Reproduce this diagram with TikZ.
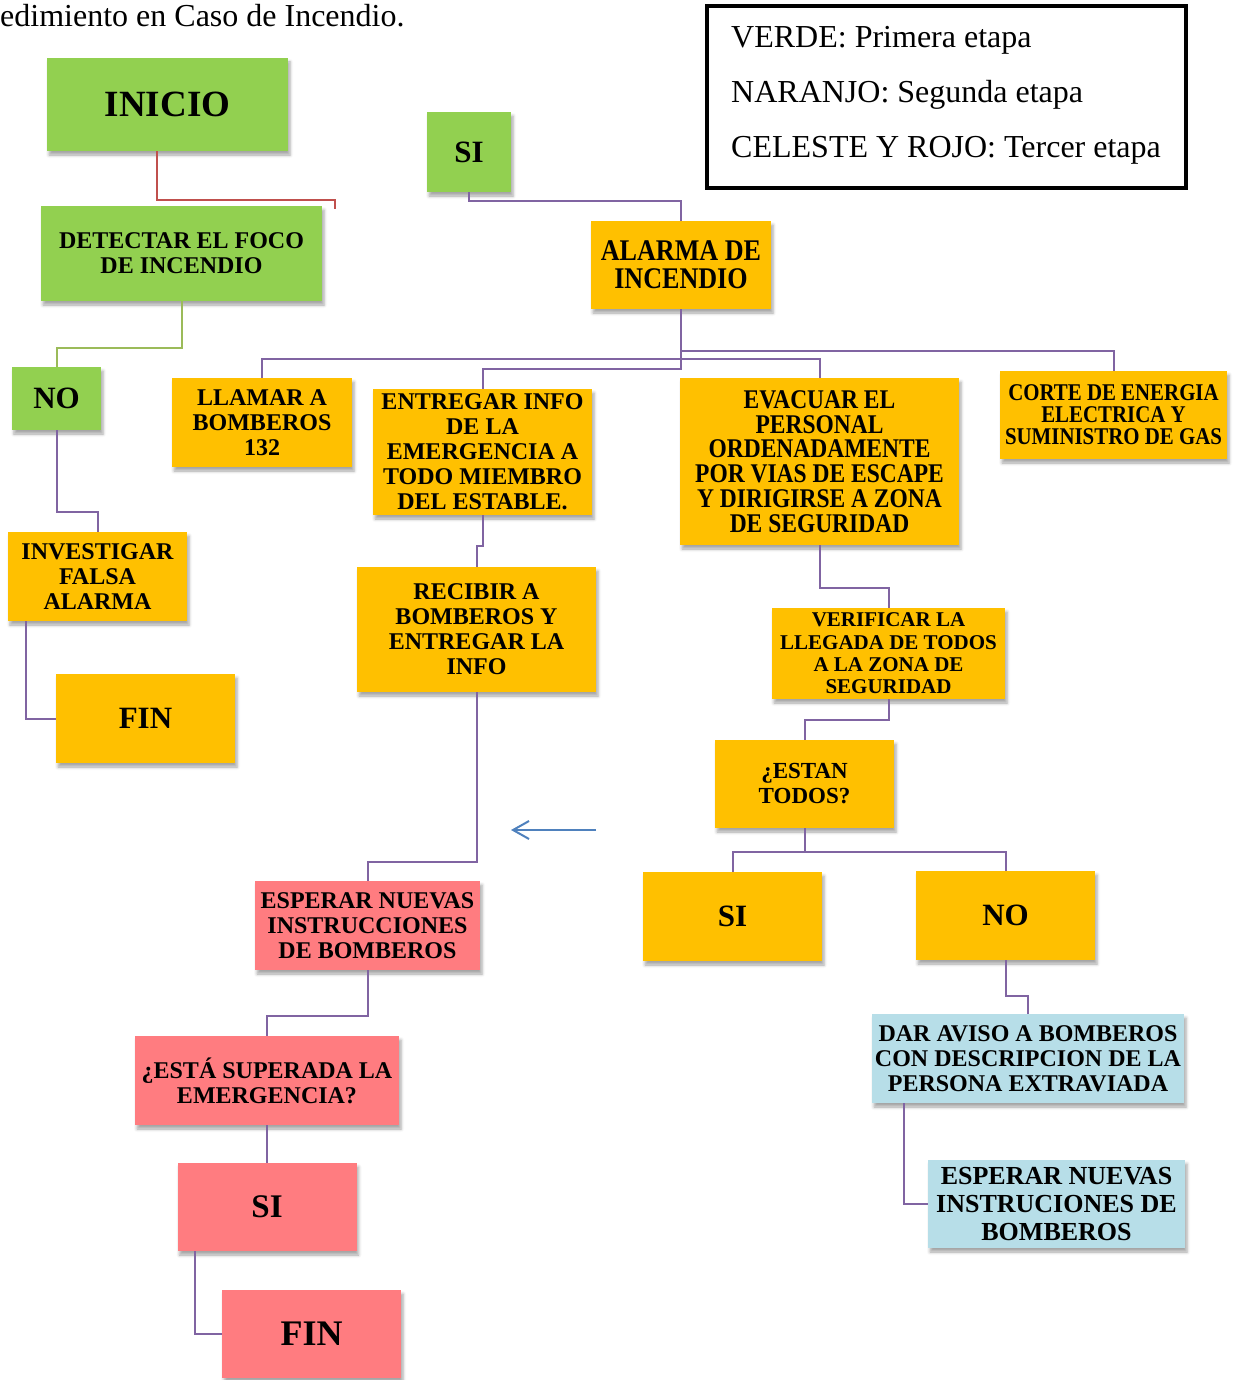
\documentclass[tikz,border=0pt]{standalone}
\usepackage{fontspec}
\setmainfont{Liberation Serif}
\newfontfamily\condfont[FakeStretch=0.87]{Liberation Serif}
\usetikzlibrary{arrows.meta,shadows.blur}
\definecolor{cGreen}{HTML}{92D050}
\definecolor{cOrange}{HTML}{FFC000}
\definecolor{cRed}{HTML}{FF7C80}
\definecolor{cBlue}{HTML}{B7DEE8}
\definecolor{cPurple}{HTML}{8064A2}
\definecolor{cGline}{HTML}{9BBB59}
\definecolor{cRline}{HTML}{C0504D}
\definecolor{cArrow}{HTML}{4F81BD}
\newcommand\mybf[2]{\fontsize{#1}{#2}\selectfont\bfseries}
\newcommand\mycond[2]{\condfont\fontsize{#1}{#2}\selectfont\bfseries}
\begin{document}
\begin{tikzpicture}[x=1pt,y=-1pt,
  box/.style={draw=none, inner sep=0pt, align=center,
    blur shadow={shadow xshift=2pt, shadow yshift=-4pt, shadow blur radius=3pt, shadow opacity=35}},
  gbox/.style={box, fill=cGreen},
  obox/.style={box, fill=cOrange},
  rbox/.style={box, fill=cRed},
  bbox/.style={box, fill=cBlue},
  sz/.style n args={2}{minimum width=#1pt, minimum height=#2pt},
  pline/.style={draw=cPurple, line width=2pt},
  gline/.style={draw=cGline, line width=2pt},
  rline/.style={draw=cRline, line width=2pt},
  legtext/.style={anchor=base west, inner sep=0pt, font=\fontsize{32}{32}\selectfont}
]
\useasboundingbox (0,0) rectangle (1243,1380);

% title fragment
\node[legtext] (title) at (0,27) {edimiento en Caso de Incendio.};

% legend
\node[draw=black, line width=4pt, sz={479}{182}, inner sep=0pt] (legend) at (946.5,97) {};
\node[legtext] (leg1) at (731,48) {VERDE: Primera etapa};
\node[legtext] (leg2) at (731,103) {NARANJO: Segunda etapa};
\node[legtext] (leg3) at (731,158) {CELESTE Y ROJO: Tercer etapa};

% green stage
\node[gbox, sz={241}{93}, font=\mybf{37}{37}] (inicio) at (167.5,104.5) {INICIO};
\node[gbox, sz={281}{95}, font=\mybf{24}{25}] (det) at (181.5,253.5) {DETECTAR EL FOCO\\DE INCENDIO};
\node[gbox, sz={89}{63}, font=\mybf{31}{31}] (noA) at (56.5,398.5) {NO};
\node[gbox, sz={84}{80}, font=\mybf{31}{31}] (siA) at (469,152) {SI};

% orange stage
\node[obox, sz={179}{89}, font=\mybf{24}{25}] (inv) at (97.5,576.5) {INVESTIGAR\\FALSA\\ALARMA};
\node[obox, sz={179}{89}, font=\mybf{31}{31}] (finA) at (145.5,718.5) {FIN};
\node[obox, sz={180}{88}, font=\mycond{30}{28}] (alarma) at (681,265) {ALARMA DE\\INCENDIO};
\node[obox, sz={180}{89}, font=\mybf{24}{25}] (llamar) at (262,422.5) {LLAMAR A\\BOMBEROS\\132};
\node[obox, sz={219}{126}, font=\mybf{24}{25}] (entregar) at (482.5,452) {ENTREGAR INFO\\DE LA\\EMERGENCIA A\\TODO MIEMBRO\\DEL ESTABLE.};
\node[obox, sz={279}{167}, font=\mycond{27}{24.8}] (evacuar) at (819.5,461.5) {EVACUAR EL\\PERSONAL\\ORDENADAMENTE\\POR VIAS DE ESCAPE\\Y DIRIGIRSE A ZONA\\DE SEGURIDAD};
\node[obox, sz={227}{88}, font=\mycond{24}{22}] (corte) at (1113.5,415) {CORTE DE ENERGIA\\ELECTRICA Y\\SUMINISTRO DE GAS};
\node[obox, sz={239}{125}, font=\mybf{24}{25}] (recibir) at (476.5,629.5) {RECIBIR A\\BOMBEROS Y\\ENTREGAR LA\\INFO};
\node[obox, sz={233}{91}, font=\mybf{21}{22.3}] (verificar) at (888.5,653.5) {VERIFICAR LA\\LLEGADA DE TODOS\\A LA ZONA DE\\SEGURIDAD};
\node[obox, sz={179}{88}, font=\mybf{23}{25}] (estan) at (804.5,784) {¿ESTAN\\TODOS?};
\node[obox, sz={179}{89}, font=\mybf{31}{31}] (siO) at (732.5,916.5) {SI};
\node[obox, sz={179}{89}, font=\mybf{31}{31}] (noO) at (1005.5,915.5) {NO};

% red / light blue stage
\node[rbox, sz={225}{89}, font=\mybf{24}{25}] (esperarR) at (367.5,925.5) {ESPERAR NUEVAS\\INSTRUCCIONES\\DE BOMBEROS};
\node[rbox, sz={264}{89}, font=\mybf{24}{25}] (superada) at (267,1080.5) {¿ESTÁ SUPERADA LA\\EMERGENCIA?};
\node[rbox, sz={179}{88}, font=\mybf{33}{33}] (siR) at (267,1207) {SI};
\node[rbox, sz={179}{88}, font=\mybf{36}{36}] (finR) at (311.5,1334) {FIN};
\node[bbox, sz={312}{89}, font=\mybf{24}{25}] (dar) at (1028,1058.5) {DAR AVISO A BOMBEROS\\CON DESCRIPCION DE LA\\PERSONA EXTRAVIADA};
\node[bbox, sz={257}{88}, font=\mybf{26}{28}] (esperarB) at (1056.5,1204) {ESPERAR NUEVAS\\INSTRUCIONES DE\\BOMBEROS};

% connectors
\coordinate (redend) at (335,209);
\draw[rline] ([xshift=-10.5pt]inicio.south) |- (redend |- 0,200) -- (redend);
\draw[gline] (det.south) |- (noA.north |- 0,348) -- (noA.north);
\draw[pline] (noA.south) |- (inv.north |- 0,512) -- (inv.north);
\draw[pline] ([xshift=18pt]inv.south west) |- (finA.west);
\draw[pline] (siA.south) |- (alarma.north |- 0,201) -- (alarma.north);
\draw[pline] (alarma.south) |- (corte.north |- 0,351) -- (corte.north);
\draw[pline] (alarma.south) |- (llamar.north |- 0,359) -- (llamar.north);
\draw[pline] (alarma.south) |- (evacuar.north |- 0,359) -- (evacuar.north);
\draw[pline] (alarma.south) |- (entregar.north |- 0,369) -- (entregar.north);
\draw[pline] (entregar.south) |- (recibir.north |- 0,546) -- (recibir.north);
\draw[pline] (recibir.south) |- (esperarR.north |- 0,862) -- (esperarR.north);
\draw[pline] (esperarR.south) |- (superada.north |- 0,1016) -- (superada.north);
\draw[pline] (superada.south) -- (siR.north);
\draw[pline] ([xshift=18pt]siR.south west) |- (finR.west);
\draw[pline] (evacuar.south) |- (verificar.north |- 0,588) -- (verificar.north);
\draw[pline] (verificar.south) |- (estan.north |- 0,720) -- (estan.north);
\draw[pline] (estan.south) |- (siO.north |- 0,852) -- (siO.north);
\draw[pline] (estan.south) |- (noO.north |- 0,852) -- (noO.north);
\draw[pline] (noO.south) |- (dar.north |- 0,996) -- (dar.north);
\draw[pline] ([xshift=32pt]dar.south west) |- (esperarB.west);

% blue arrow
\coordinate (arrS) at (596,830);
\coordinate (arrE) at (511,830);
\draw[draw=cArrow, line width=2pt, -{Straight Barb[length=16pt, width=18pt, line width=2pt]}] (arrS) -- (arrE);
\end{tikzpicture}
\end{document}
